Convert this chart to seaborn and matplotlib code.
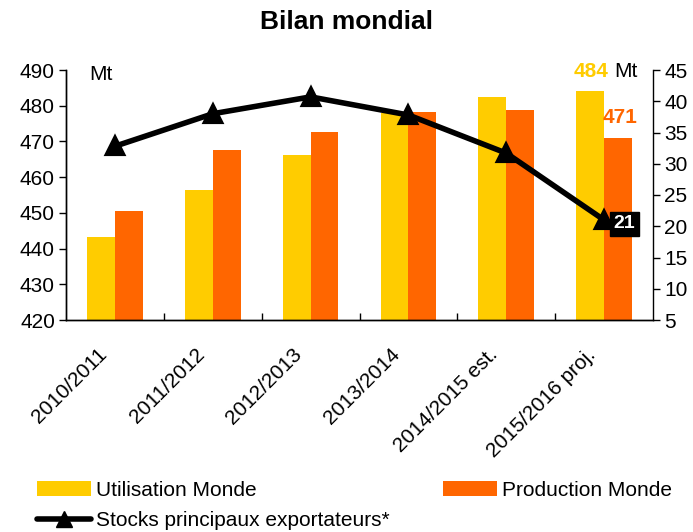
import matplotlib
matplotlib.use("Agg")
import matplotlib.pyplot as plt
import matplotlib.transforms as mtransforms
import seaborn as sns
import pandas as pd
import numpy as np
from matplotlib.patches import Patch
from matplotlib.lines import Line2D

categories = ["2010/2011", "2011/2012", "2012/2013", "2013/2014", "2014/2015 est.", "2015/2016 proj."]
utilisation = [443.3, 456.4, 466.2, 478.0, 482.4, 484.0]
production = [450.5, 467.6, 472.6, 478.2, 478.8, 471.0]
stocks = [32.8, 38.0, 40.7, 37.8, 31.7, 21.0]
series_names = ["Utilisation Monde", "Production Monde"]
line_name = "Stocks principaux exportateurs*"

YELLOW = "#FFCC00"
ORANGE = "#FF6600"

sns.set_theme(style="white")
plt.rcParams["font.family"] = ["Liberation Sans", "DejaVu Sans"]
for k in ("text.color", "axes.labelcolor", "xtick.color", "ytick.color"):
    plt.rcParams[k] = "black"

df = pd.DataFrame({
    "cat": categories * 2,
    "val": utilisation + production,
    "serie": [series_names[0]] * 6 + [series_names[1]] * 6,
})

fig = plt.figure(figsize=(6.93, 5.32), dpi=100)
ax = fig.add_axes([66 / 693, 1 - 320 / 532, (653 - 66) / 693, 250 / 532])

sns.barplot(data=df, x="cat", y="val", hue="serie", palette=[YELLOW, ORANGE],
            width=0.57, gap=0, ax=ax, legend=False, saturation=1, linewidth=0)
ax.set_ylim(420, 490)
ax.set_yticks(np.arange(420, 491, 10))
ax.set_xlim(-0.5, 5.5)
ax.set_xlabel("")
ax.set_ylabel("")

ax2 = ax.twinx()
sns.pointplot(x=categories, y=stocks, ax=ax2, color="black", markers="^",
              markersize=11, linewidth=4)
ax2.set_ylim(5, 45)
ax2.set_yticks(np.arange(5, 46, 5))
ax2.set_xlim(-0.5, 5.5)
ax2.set_ylabel("")

for a in (ax, ax2):
    for s in a.spines.values():
        s.set_color("black")
        s.set_linewidth(1)
    a.spines["top"].set_visible(False)
ax.spines["right"].set_visible(False)

ax.tick_params(axis="y", direction="out", length=5, width=1, color="black", labelsize=15, left=True, pad=3)
ax2.tick_params(axis="y", direction="out", length=5, width=1, color="black", labelsize=15, right=True, pad=3)
ax.set_xticks(range(6))
ax.set_xticklabels(categories, rotation=45, ha="right", rotation_mode="anchor", fontsize=15)
ax.tick_params(axis="x", bottom=False, pad=12)
shift = mtransforms.ScaledTranslation(-18 / 100, 0, fig.dpi_scale_trans)
for lab in ax.get_xticklabels():
    lab.set_transform(lab.get_transform() + shift)
# boundary ticks pointing inward
ax.set_xticks(np.arange(0.5, 5.5, 1), minor=True)
ax.tick_params(axis="x", which="minor", direction="in", length=5, width=1, color="black", bottom=True)

ax.text(0.04, 0.98, "Mt", transform=ax.transAxes, fontsize=15, va="center", ha="left")
ax2.text(5.1, 44.7, "Mt", fontsize=15, va="center", ha="left")
ax2.text(5.05, 44.7, "%d" % round(utilisation[5]), fontsize=15, fontweight="bold",
         color=YELLOW, va="center", ha="right")
ax.text(5.34, production[5] + 5.6, "%d" % round(production[5]), fontsize=15, fontweight="bold",
        color=ORANGE, va="center", ha="right")
ax2.text(5.1, stocks[5] - 0.6, "%d" % round(stocks[5]), fontsize=14, fontweight="bold", color="white",
         va="center", ha="left",
         bbox=dict(boxstyle="square,pad=0.18", facecolor="black", edgecolor="black"))

fig.suptitle("Bilan mondial", fontsize=19, fontweight="bold", y=1 - 22 / 532, va="center")

leg_kw = dict(loc="upper left", frameon=False, fontsize=15, handlelength=2.6, handletextpad=0.25,
              labelspacing=0.55, borderaxespad=0, borderpad=0, handleheight=0.7)
h_util = Patch(facecolor=YELLOW, edgecolor="none")
h_prod = Patch(facecolor=ORANGE, edgecolor="none")
h_stock = Line2D([0], [0], color="black", lw=4, marker="^", markersize=11)
fig.legend([h_util, h_stock], [series_names[0], line_name],
           bbox_to_anchor=(37 / 693, 1 - 481 / 532), **leg_kw)
fig.legend([h_prod], [series_names[1]],
           bbox_to_anchor=(443 / 693, 1 - 481 / 532), **leg_kw)

fig.savefig("out.png", dpi=100)
